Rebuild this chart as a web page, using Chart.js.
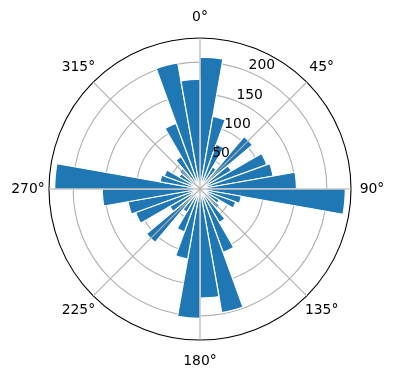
<!DOCTYPE html>
<html>
<head>
<meta charset="utf-8">
<script src="https://cdn.jsdelivr.net/npm/chart.js@4"></script>
<style>
  html, body { margin: 0; padding: 0; background: #fff; }
  canvas { display: block; }
</style>
</head>
<body>
<canvas id="myChart" width="396" height="380"></canvas>
<script>
// sectors of 10 degrees, going clockwise from north
const sectorStart = [0, 10, 20, 30, 40, 50, 60, 70, 80,
                     90, 100, 110, 120, 130, 140, 150, 160, 170,
                     180, 190, 200, 210, 220, 230, 240, 250, 260,
                     270, 280, 290, 300, 310, 320, 330, 340, 350];
const counts = [208, 116, 75, 40, 108, 57, 112, 117, 152,
                229, 66, 60, 35, 40, 61, 106, 198, 172,
                204, 112, 72, 42, 110, 55, 108, 115, 154,
                229, 64, 60, 38, 42, 59, 110, 202, 173];
const radialTicks = [50, 100, 150, 200];
const rMax = 238;
const angleTicks = [0, 45, 90, 135, 180, 225, 270, 315];
const angleLabels = ["0°", "45°", "90°", "135°", "180°", "225°", "270°", "315°"];

const FONT = '13.9px "DejaVu Sans"';
const GRID = "#b0b0b0";

// angle gridlines every 45 deg and the text labels, placed with the r scale
const polarDecor = {
  id: "polarDecor",
  afterDatasetsDraw(chart) {
    const s = chart.scales.r;
    const ctx = chart.ctx;
    const step = 360 / counts.length;
    ctx.save();
    ctx.strokeStyle = GRID;
    ctx.lineWidth = 1.1;
    angleTicks.forEach(a => {
      const p = s.getPointPosition(a / step, s.drawingArea);
      ctx.beginPath();
      ctx.moveTo(s.xCenter, s.yCenter);
      ctx.lineTo(p.x, p.y);
      ctx.stroke();
    });
    ctx.restore();
  },
  afterDraw(chart) {
    const s = chart.scales.r;
    const ctx = chart.ctx;
    const step = 360 / counts.length;
    ctx.save();
    ctx.font = FONT;
    ctx.fillStyle = "#000";
    // radial tick labels along 22.5 deg
    ctx.textAlign = "left";
    ctx.textBaseline = "bottom";
    radialTicks.forEach(v => {
      const p = s.getPointPosition(22.5 / step, s.getDistanceFromCenterForValue(v));
      ctx.fillText(String(v), p.x, p.y + 1);
    });
    // angle labels
    ctx.textAlign = "center";
    ctx.textBaseline = "middle";
    angleTicks.forEach((a, i) => {
      const p = s.getPointPosition(a / step, s.drawingArea + 21);
      ctx.fillText(angleLabels[i], p.x, p.y);
    });
    ctx.restore();
  }
};

const ctx = document.getElementById("myChart").getContext("2d");
const myChart = new Chart(ctx, {
  type: "polarArea",
  data: {
    labels: sectorStart.map(d => d + "°"),
    datasets: [
      {
        label: "count",
        data: counts,
        backgroundColor: "#1f77b4",
        borderColor: "#ffffff",
        borderWidth: 1.2,
      },
    ],
  },
  options: {
    responsive: false,
    animation: false,
    layout: { padding: { left: 49, right: 45, top: 38, bottom: 40 } },
    plugins: { legend: { display: false }, tooltip: { enabled: false } },
    scales: {
      r: {
        z: 1,
        min: 0,
        max: rMax,
        startAngle: 0,
        afterBuildTicks: scale => {
          scale.ticks = [0, ...radialTicks, rMax].map(v => ({ value: v }));
        },
        ticks: { display: false },
        angleLines: { display: false },
        pointLabels: { display: false },
        grid: {
          color: c => (c.tick && c.tick.value === rMax ? "#000000" : GRID),
          lineWidth: 1.1,
        },
      },
    },
  },
  plugins: [polarDecor],
});
</script>
</body>
</html>
